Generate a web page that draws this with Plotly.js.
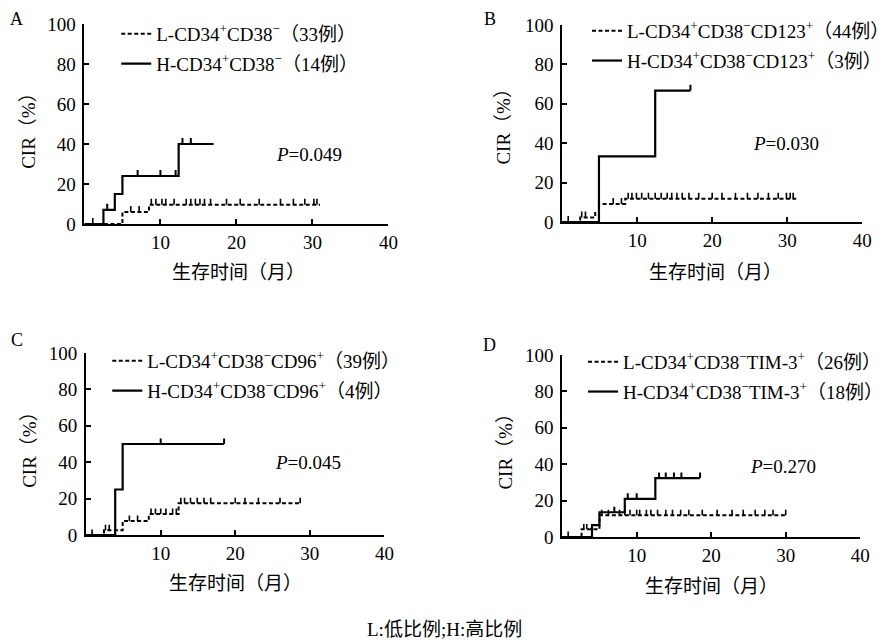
<!DOCTYPE html>
<html>
<head>
<meta charset="utf-8">
<script src="https://cdn.plot.ly/plotly-3.0.1.min.js"></script>
<style>html,body{margin:0;padding:0;background:#fff;}#chart{width:895px;height:644px;}</style>
</head>
<body>
<div id="chart"></div>
<script>
// ---------------- DATA ----------------
// Panel A
const A_L_time = [0, 5.0, 8.5, 31.0];
const A_L_cir  = [0, 6.0, 9.6, 9.6];
const A_H_time = [0, 2.5, 4.0, 5.0, 12.4, 17.0];
const A_H_cir  = [0, 7.1, 15.0, 24.0, 40.0, 40.0];
const A_L_cens_time = [1.1, 6.1, 7.2, 8.8, 9.4, 10.2, 10.7, 11.8, 13.4, 14.0, 14.6, 15.2, 15.8, 16.6, 18.7, 20.5, 23.0, 25.8, 27.5, 29.0, 30.2, 30.6];
const A_L_cens_cir  = [0, 6.0, 6.0, 9.6, 9.6, 9.6, 9.6, 9.6, 9.6, 9.6, 9.6, 9.6, 9.6, 9.6, 9.6, 9.6, 9.6, 9.6, 9.6, 9.6, 9.6, 9.6];
const A_H_cens_time = [3.0, 7.0, 10.0, 12.0, 12.9, 14.0];
const A_H_cens_cir  = [7.1, 24.0, 24.0, 24.0, 40.0, 40.0];
const A_labels = ["L-CD34<sup>+</sup>CD38<sup>−</sup>（33例）", "H-CD34<sup>+</sup>CD38<sup>−</sup>（14例）"];
const A_p = "<i>P</i>=0.049";

// Panel B
const B_L_time = [0, 2.4, 4.4, 4.9, 8.4, 31.2];
const B_L_cir  = [0, 2.3, 4.6, 9.2, 11.8, 11.8];
const B_H_time = [0, 4.9, 12.4, 17.1];
const B_H_cir  = [0, 33.3, 66.7, 66.7];
const B_L_cens_time = [0.8, 2.6, 3.1, 6.8, 7.9, 8.8, 9.3, 9.9, 10.6, 11.5, 12.4, 13.2, 14.0, 14.6, 15.3, 16.0, 16.9, 18.2, 20.0, 21.3, 23.1, 24.7, 26.1, 27.5, 28.8, 29.9, 30.4, 30.8];
const B_L_cens_cir  = [0, 2.3, 2.3, 9.2, 9.2, 11.8, 11.8, 11.8, 11.8, 11.8, 11.8, 11.8, 11.8, 11.8, 11.8, 11.8, 11.8, 11.8, 11.8, 11.8, 11.8, 11.8, 11.8, 11.8, 11.8, 11.8, 11.8, 11.8];
const B_H_cens_time = [17.1];
const B_H_cens_cir  = [66.7];
const B_labels = ["L-CD34<sup>+</sup>CD38<sup>−</sup>CD123<sup>+</sup>（44例）", "H-CD34<sup>+</sup>CD38<sup>−</sup>CD123<sup>+</sup>（3例）"];
const B_p = "<i>P</i>=0.030";

// Panel C
const C_L_time = [0, 2.4, 4.9, 8.4, 12.4, 28.7];
const C_L_cir  = [0, 2.6, 7.7, 11.5, 17.4, 17.4];
const C_H_time = [0, 3.9, 4.9, 18.5];
const C_H_cir  = [0, 25.0, 50.0, 50.0];
const C_L_cens_time = [0.8, 2.6, 3.1, 5.8, 6.9, 8.7, 9.3, 10.0, 10.7, 11.6, 12.1, 12.7, 13.2, 14.0, 14.9, 15.8, 16.7, 20.0, 21.3, 23.1, 26.0, 28.7];
const C_L_cens_cir  = [0, 2.6, 2.6, 7.7, 7.7, 11.5, 11.5, 11.5, 11.5, 11.5, 11.5, 17.4, 17.4, 17.4, 17.4, 17.4, 17.4, 17.4, 17.4, 17.4, 17.4, 17.4];
const C_H_cens_time = [10.0, 18.5];
const C_H_cens_cir  = [50.0, 50.0];
const C_labels = ["L-CD34<sup>+</sup>CD38<sup>−</sup>CD96<sup>+</sup>（39例）", "H-CD34<sup>+</sup>CD38<sup>−</sup>CD96<sup>+</sup>（4例）"];
const C_p = "<i>P</i>=0.045";

// Panel D
const D_L_time = [0, 2.6, 5.0, 30.0];
const D_L_cir  = [0, 4.2, 12.0, 12.0];
const D_H_time = [0, 4.0, 5.0, 8.4, 12.5, 18.5];
const D_H_cir  = [0, 6.5, 13.6, 21.0, 32.4, 32.4];
const D_L_cens_time = [0.8, 2.9, 3.3, 5.3, 6.2, 7.7, 8.4, 9.1, 10.0, 10.4, 11.3, 11.9, 12.8, 13.9, 14.8, 15.9, 17.0, 18.8, 20.8, 22.8, 24.3, 25.9, 27.2, 28.3, 30.0];
const D_L_cens_cir  = [0, 4.2, 4.2, 12.0, 12.0, 12.0, 12.0, 12.0, 12.0, 12.0, 12.0, 12.0, 12.0, 12.0, 12.0, 12.0, 12.0, 12.0, 12.0, 12.0, 12.0, 12.0, 12.0, 12.0, 12.0];
const D_H_cens_time = [7.0, 8.8, 10.0, 13.0, 13.9, 15.0, 16.0, 18.5];
const D_H_cens_cir  = [13.6, 21.0, 21.0, 32.4, 32.4, 32.4, 32.4, 32.4];
const D_labels = ["L-CD34<sup>+</sup>CD38<sup>−</sup>TIM-3<sup>+</sup>（26例）", "H-CD34<sup>+</sup>CD38<sup>−</sup>TIM-3<sup>+</sup>（18例）"];
const D_p = "<i>P</i>=0.270";

const xTicks = [10, 20, 30, 40];
const yTicks = [0, 20, 40, 60, 80, 100];
const yTitle = "CIR（%）";
const xTitle = "生存时间（月）";
const panelLetters = ["A", "B", "C", "D"];
const caption = "L:低比例;H:高比例";

// ---------------- LAYOUT HELPERS ----------------
const W = 895, H = 644;
const px = v => v / W;
const py = v => 1 - v / H;
const FONT = "'Liberation Serif', 'Times New Roman', 'Noto Sans CJK SC', serif";
const FS = 19;

const panels = [
  {id: "", leg: "legend",  Lt: A_L_time, Lc: A_L_cir, Ht: A_H_time, Hc: A_H_cir,
   Lct: A_L_cens_time, Lcc: A_L_cens_cir, Hct: A_H_cens_time, Hcc: A_H_cens_cir, labels: A_labels, p: A_p,
   xd: [85, 391], yd: [224, 24], legX: 159, legY: 34, pPos: [29.5, 34.5],
   yT: [29, 126], xT: [240, 272], letter: [17, 19]},
  {id: "2", leg: "legend2", Lt: B_L_time, Lc: B_L_cir, Ht: B_H_time, Hc: B_H_cir,
   Lct: B_L_cens_time, Lcc: B_L_cens_cir, Hct: B_H_cens_time, Hcc: B_H_cens_cir, labels: B_labels, p: B_p,
   xd: [566, 868], yd: [222, 25], legX: 633, legY: 31, pPos: [29.9, 40],
   yT: [507, 122], xT: [720, 272], letter: [493, 19]},
  {id: "3", leg: "legend3", Lt: C_L_time, Lc: C_L_cir, Ht: C_H_time, Hc: C_H_cir,
   Lct: C_L_cens_time, Lcc: C_L_cens_cir, Hct: C_H_cens_time, Hcc: C_H_cens_cir, labels: C_labels, p: C_p,
   xd: [86.7, 387], yd: [535, 353], legX: 150, legY: 361, pPos: [29.8, 39.6],
   yT: [29, 445], xT: [237, 583], letter: [17, 340]},
  {id: "4", leg: "legend4", Lt: D_L_time, Lc: D_L_cir, Ht: D_H_time, Hc: D_H_cir,
   Lct: D_L_cens_time, Lcc: D_L_cens_cir, Hct: D_H_cens_time, Hcc: D_H_cens_cir, labels: D_labels, p: D_p,
   xd: [566, 866], yd: [537, 355], legX: 629, legY: 362, pPos: [29.6, 38.5],
   yT: [508, 447], xT: [716, 586], letter: [493, 345]}
];

const traces = [];
const layout = {
  width: W, height: H,
  margin: {l: 0, r: 0, t: 0, b: 0},
  paper_bgcolor: "#fff", plot_bgcolor: "rgba(0,0,0,0)",
  font: {family: FONT, size: FS, color: "#000"},
  showlegend: true,
  annotations: [], shapes: []
};

function ann(text, x, y, extra) {
  return Object.assign({text: text, x: x, y: y, xref: "paper", yref: "paper", xanchor: "center", yanchor: "middle",
    showarrow: false, font: {family: FONT, size: FS, color: "#000"}}, extra || {});
}

panels.forEach((p, i) => {
  const xa = "x" + p.id, ya = "y" + p.id;
  traces.push({x: p.Lt, y: p.Lc, xaxis: xa, yaxis: ya, type: "scatter", mode: "lines",
    line: {shape: "hv", color: "#000", width: 2, dash: "4px,2.5px"}, name: p.labels[0],
    legend: p.leg, legendgroup: "L" + i, hoverinfo: "skip"});
  traces.push({x: p.Ht, y: p.Hc, xaxis: xa, yaxis: ya, type: "scatter", mode: "lines",
    line: {shape: "hv", color: "#000", width: 2.2}, name: p.labels[1],
    legend: p.leg, legendgroup: "H" + i, hoverinfo: "skip"});
  const ebar = {type: "constant", value: 3, valueminus: 0, symmetric: false, width: 0, thickness: 1.6, color: "#000"};
  traces.push({x: p.Lct, y: p.Lcc, xaxis: xa, yaxis: ya, type: "scatter", mode: "markers",
    marker: {size: 1, color: "rgba(0,0,0,0)"}, error_y: ebar, showlegend: false, cliponaxis: false, hoverinfo: "skip"});
  traces.push({x: p.Hct, y: p.Hcc, xaxis: xa, yaxis: ya, type: "scatter", mode: "markers",
    marker: {size: 1, color: "rgba(0,0,0,0)"}, error_y: Object.assign({}, ebar, {thickness: 2}), showlegend: false, cliponaxis: false, hoverinfo: "skip"});

  const axCommon = {showline: true, linecolor: "#000", linewidth: 2, ticks: "inside", ticklen: 5, tickwidth: 2,
    tickcolor: "#000", showgrid: false, zeroline: false, fixedrange: true, tickfont: {family: FONT, size: FS, color: "#000"}};
  layout["xaxis" + p.id] = Object.assign({}, axCommon, {domain: [px(p.xd[0]), px(p.xd[1])], range: [0, 40],
    tickmode: "array", tickvals: xTicks, anchor: ya, ticklabelstandoff: 0});
  layout["yaxis" + p.id] = Object.assign({}, axCommon, {domain: [py(p.yd[0]), py(p.yd[1])], range: [0, 100],
    tickmode: "array", tickvals: yTicks, anchor: xa, ticklabelstandoff: 3});

  layout[p.leg] = {x: px(p.legX - 42), y: py(p.legY - 19), xanchor: "left", yanchor: "top",
    xref: "paper", yref: "paper", bgcolor: "rgba(0,0,0,0)", borderwidth: 0,
    font: {family: FONT, size: FS, color: "#000"}, tracegroupgap: 2, traceorder: "grouped", itemwidth: 30};

  layout.annotations.push({text: p.p, x: p.pPos[0], y: p.pPos[1], xref: xa, yref: ya, showarrow: false,
    xanchor: "center", yanchor: "middle", font: {family: FONT, size: FS, color: "#000"}});
  layout.annotations.push(ann(yTitle, px(p.yT[0]), py(p.yT[1]), {textangle: -90}));
  layout.annotations.push(ann(xTitle, px(p.xT[0]), py(p.xT[1])));
  layout.annotations.push(ann(panelLetters[i], px(p.letter[0]), py(p.letter[1]), {font: {family: FONT, size: 18, color: "#000"}}));
});

layout.annotations.push(ann(caption, px(447), py(629)));

Plotly.newPlot("chart", traces, layout, {staticPlot: true, displayModeBar: false});
</script>
</body>
</html>
